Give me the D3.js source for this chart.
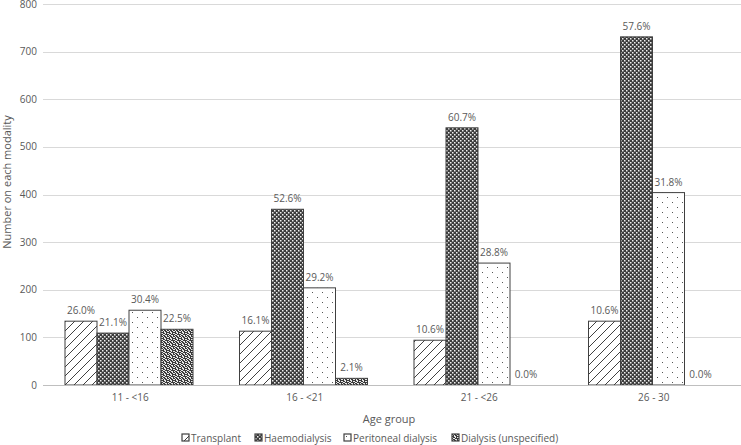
<!DOCTYPE html>
<html>
<head>
<meta charset="utf-8">
<script src="https://cdn.jsdelivr.net/npm/d3@7"></script>
<style>
  body { margin: 0; background: #fff; }
  svg text { font-family: "Open Sans", Lato, sans-serif; }
</style>
</head>
<body>
<svg id="svg"></svg>
<script>
const ageGroups = ["11 - <16", "16 - <21", "21 - <26", "26 - 30"];
const modalities = ["Transplant", "Haemodialysis", "Peritoneal dialysis", "Dialysis (unspecified)"];

const transplant = [134, 113, 94, 134];
const haemodialysis = [109, 369, 540, 731];
const peritoneal = [157, 204, 256, 404];
const dialysisUnspecified = [117, 14, 0, 0];

const transplantPct = ["26.0%", "16.1%", "10.6%", "10.6%"];
const haemodialysisPct = ["21.1%", "52.6%", "60.7%", "57.6%"];
const peritonealPct = ["30.4%", "29.2%", "28.8%", "31.8%"];
const dialysisPct = ["22.5%", "2.1%", "0.0%", "0.0%"];

const yTicks = [0, 100, 200, 300, 400, 500, 600, 700, 800];

const seriesValues = [transplant, haemodialysis, peritoneal, dialysisUnspecified];
const seriesLabels = [transplantPct, haemodialysisPct, peritonealPct, dialysisPct];

let layout = {"width": 741, "height": 445,
              "marginTop": 4, "marginRight": 0, "marginBottom": 60, "marginLeft": 43};

let svgElement = d3.select("#svg")
  .attr("width", layout.width)
  .attr("height", layout.height);

// patterns
const defs = svgElement.append("defs");

const pTrans = defs.append("pattern").attr("id", "pat0")
  .attr("patternUnits", "userSpaceOnUse").attr("width", 9).attr("height", 9);
pTrans.append("rect").attr("width", 9).attr("height", 9).attr("fill", "#fff");
pTrans.append("path").attr("d", "M-1,10 L10,-1 M-2,2 L2,-2 M7,11 L11,7")
  .attr("stroke", "#404040").attr("stroke-width", 1);

const pHaemo = defs.append("pattern").attr("id", "pat1")
  .attr("patternUnits", "userSpaceOnUse").attr("width", 4).attr("height", 4);
pHaemo.append("rect").attr("width", 4).attr("height", 4).attr("fill", "#3c3c3c");
pHaemo.append("rect").attr("x", 0).attr("y", 0).attr("width", 1.5).attr("height", 1.5).attr("fill", "#f0f0f0");
pHaemo.append("rect").attr("x", 2).attr("y", 2).attr("width", 1.5).attr("height", 1.5).attr("fill", "#f0f0f0");

const pPer = defs.append("pattern").attr("id", "pat2")
  .attr("patternUnits", "userSpaceOnUse").attr("width", 10).attr("height", 10);
pPer.append("rect").attr("width", 10).attr("height", 10).attr("fill", "#fff");
pPer.append("rect").attr("x", 2).attr("y", 2).attr("width", 1).attr("height", 1).attr("fill", "#555");
pPer.append("rect").attr("x", 7).attr("y", 7).attr("width", 1).attr("height", 1).attr("fill", "#555");

const noise = [
  "101101", "010110", "110011", "011010", "100111", "011001"
];
const pDial = defs.append("pattern").attr("id", "pat3")
  .attr("patternUnits", "userSpaceOnUse").attr("width", 6).attr("height", 6);
pDial.append("rect").attr("width", 6).attr("height", 6).attr("fill", "#e8e8e8");
noise.forEach((row, r) => {
  row.split("").forEach((c, k) => {
    if (c === "1") pDial.append("rect").attr("x", k).attr("y", r)
      .attr("width", 1).attr("height", 1).attr("fill", "#3a3a3a");
  });
});

let xScale = d3.scaleBand()
  .domain(ageGroups)
  .range([layout.marginLeft, layout.width - layout.marginRight]);

// four bars side by side inside each group band
let xInner = d3.scaleBand()
  .domain(modalities)
  .range([22, 22 + 128])
  .padding(0);

let yScale = d3.scaleLinear()
  .domain([0, 800])
  .range([layout.height - layout.marginBottom, layout.marginTop]);

// gridlines
svgElement.append("g").selectAll("line")
  .data(yTicks)
  .join("line")
  .attr("x1", layout.marginLeft)
  .attr("x2", layout.width - layout.marginRight)
  .attr("y1", d => Math.round(yScale(d)) + 0.5)
  .attr("y2", d => Math.round(yScale(d)) + 0.5)
  .attr("stroke", "#d9d9d9")
  .attr("stroke-width", 1);

// y tick labels
svgElement.append("g").selectAll("text")
  .data(yTicks)
  .join("text")
  .attr("x", 37)
  .attr("y", d => yScale(d) + 3.5)
  .attr("text-anchor", "end")
  .attr("font-size", 10)
  .attr("fill", "#595959")
  .text(d => d);

// bars
const flat = [];
seriesValues.forEach((vals, s) => {
  vals.forEach((v, g) => {
    flat.push({group: ageGroups[g], modality: modalities[s], idx: s, value: v, label: seriesLabels[s][g]});
  });
});

svgElement.append("g").attr("id", "mark").selectAll("rect")
  .data(flat.filter(d => d.value > 0))
  .join("rect")
  .attr("x", d => xScale(d.group) + xInner(d.modality))
  .attr("y", d => yScale(d.value))
  .attr("width", xInner.bandwidth())
  .attr("height", d => yScale(0) - yScale(d.value))
  .attr("fill", d => `url(#pat${d.idx})`)
  .attr("stroke", "#404040")
  .attr("stroke-width", 1);

// value labels
svgElement.append("g").selectAll("text")
  .data(flat)
  .join("text")
  .attr("x", d => xScale(d.group) + xInner(d.modality) + xInner.bandwidth() / 2)
  .attr("y", d => yScale(d.value) - 7)
  .attr("text-anchor", "middle")
  .attr("font-size", 10)
  .attr("fill", "#595959")
  .text(d => d.label);

// x axis line
svgElement.append("line")
  .attr("x1", layout.marginLeft)
  .attr("x2", layout.width - layout.marginRight)
  .attr("y1", yScale(0) + 0.5)
  .attr("y2", yScale(0) + 0.5)
  .attr("stroke", "#bfbfbf");

// x labels
svgElement.append("g").selectAll("text")
  .data(ageGroups)
  .join("text")
  .attr("x", d => xScale(d) + xScale.bandwidth() / 2)
  .attr("y", 401)
  .attr("text-anchor", "middle")
  .attr("font-size", 10)
  .attr("fill", "#595959")
  .text(d => d);

// axis titles
svgElement.append("text")
  .attr("x", 389)
  .attr("y", 423)
  .attr("text-anchor", "middle")
  .attr("font-size", 11)
  .attr("fill", "#595959")
  .text("Age group");

svgElement.append("text")
  .attr("transform", "translate(11,182) rotate(-90)")
  .attr("text-anchor", "middle")
  .attr("font-size", 11)
  .attr("fill", "#595959")
  .text("Number on each modality");

// legend
const legendX = [182, 255, 344, 452];
const legend = svgElement.append("g").selectAll("g")
  .data(modalities)
  .join("g")
  .attr("transform", (d, i) => `translate(${legendX[i]}, 434)`);

legend.append("rect")
  .attr("width", 7).attr("height", 7)
  .attr("fill", (d, i) => `url(#pat${i})`)
  .attr("stroke", "#404040")
  .attr("stroke-width", 1.2);

legend.append("text")
  .attr("x", 9)
  .attr("y", 7.5)
  .attr("font-size", 10)
  .attr("fill", "#595959")
  .text(d => d);
</script>
</body>
</html>
